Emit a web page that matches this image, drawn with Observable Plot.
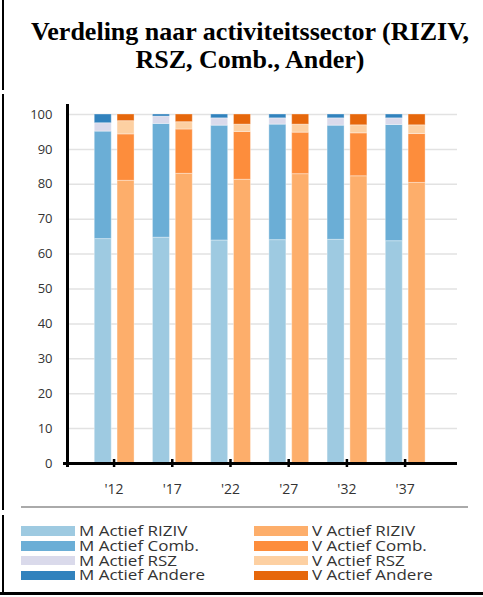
<!DOCTYPE html>
<html>
<head>
<meta charset="utf-8">
<script src="https://cdn.jsdelivr.net/npm/d3@7"></script>
<script src="https://cdn.jsdelivr.net/npm/@observablehq/plot@0.6"></script>
<style>
  html, body { margin: 0; padding: 0; background: #fff; width: 483px; height: 597px; overflow: hidden; }
  #page { position: relative; width: 483px; height: 597px; }
  .vline { position: absolute; left: 2px; width: 2px; background: #000; }
  #bottom { position: absolute; left: 0; top: 592px; width: 483px; height: 3px; background: #000; }
  #title { position: absolute; left: 0; top: 18px; width: 500px; text-align: center;
           font-family: "Liberation Serif", "Times New Roman", serif; font-weight: bold;
           font-size: 26px; line-height: 28px; color: #000; }
  #chart { position: absolute; left: 0; top: 95px; }
  #sep { position: absolute; left: 21px; top: 506px; width: 447px; height: 1.5px; background: #aaa; }
  .leg { position: absolute; font-family: "Open Sans", sans-serif; font-size: 14.5px; color: #333;
         line-height: 14.8px; white-space: nowrap; }
  .leg .row { height: 14.8px; }
  .leg .sw { display: inline-block; width: 54px; height: 9.5px; vertical-align: middle; margin-right: 4px; position: relative; top: -1px; }
  .leg .txt { display: inline-block; transform: scaleX(1.17); transform-origin: left center; }
</style>
</head>
<body>
<div id="page">
  <div class="vline" style="top:0;height:90px"></div>
  <div class="vline" style="top:94px;height:416px"></div>
  <div class="vline" style="top:515px;height:78px"></div>
  <div id="bottom"></div>
  <div id="title">Verdeling naar activiteitssector (RIZIV,<br>RSZ, Comb., Ander)</div>
  <div id="chart"></div>
  <div id="sep"></div>
  <div id="legendM" class="leg" style="left:21px;top:524px"></div>
  <div id="legendV" class="leg" style="left:254px;top:524px"></div>
</div>
<script>
// ---- data ----
const years = [2012, 2017, 2022, 2027, 2032, 2037];
const mKeys = ["M Actief RIZIV", "M Actief Comb.", "M Actief RSZ", "M Actief Andere"];
const vKeys = ["V Actief RIZIV", "V Actief Comb.", "V Actief RSZ", "V Actief Andere"];
const mColors = ["#9ecae1", "#6baed6", "#dadaeb", "#3182bd"];
const vColors = ["#fdae6b", "#fd8d3c", "#fdd0a2", "#e6670b"];
const mRiziv  = [64.3, 64.7, 63.9, 64.0, 64.1, 63.7];
const mComb   = [30.8, 32.6, 32.9, 33.1, 32.7, 33.3];
const mRsz    = [2.4, 2.1, 2.1, 1.8, 2.1, 1.9];
const mAndere = [2.5, 0.6, 1.1, 1.1, 1.1, 1.1];
const vRiziv  = [81.0, 83.0, 81.3, 82.9, 82.3, 80.4];
const vComb   = [13.3, 12.7, 13.7, 11.9, 12.3, 14.0];
const vRsz    = [3.8, 2.1, 2.1, 2.3, 2.3, 2.5];
const vAndere = [1.9, 2.2, 2.9, 2.9, 3.1, 3.1];
const yTicks = d3.range(0, 101, 10);
const xDomain = [2008, 2041.5];

// ---- build stacked rows ----
const groups = [
  {keys: mKeys, series: [mRiziv, mComb, mRsz, mAndere], off: [-1.66, -0.2]},
  {keys: vKeys, series: [vRiziv, vComb, vRsz, vAndere], off: [0.3, 1.76]}
];
const rows = [];
years.forEach((yr, i) => {
  groups.forEach(g => {
    let acc = 0;
    g.series.forEach((s, k) => {
      rows.push({year: yr, key: g.keys[k], x1: yr + g.off[0], x2: yr + g.off[1], y1: acc, y2: acc + s[i]});
      acc += s[i];
    });
  });
});

const allKeys = [...mKeys, ...vKeys];
const allColors = [...mColors, ...vColors];

const plot = Plot.plot({
  width: 483,
  height: 410,
  marginTop: 19,
  marginBottom: 42,
  marginLeft: 67,
  marginRight: 26,
  style: {fontFamily: "Open Sans, sans-serif", fontSize: "13px", overflow: "visible", background: "transparent"},
  x: {domain: xDomain, axis: null},
  y: {domain: [0, 100], axis: null},
  color: {domain: allKeys, range: allColors},
  marks: [
    Plot.gridY(yTicks.filter(d => d > 0), {stroke: "#e2e2e2", strokeOpacity: 1, strokeWidth: 1.5}),
    Plot.rectY(rows, {x1: "x1", x2: "x2", y1: "y1", y2: "y2", fill: "key", stroke: "white", strokeOpacity: 0.35, strokeWidth: 1}),
    Plot.axisY(yTicks, {tickSize: 0, tickPadding: 15, fontSize: 13, fill: "#333", label: null}),
    Plot.axisX(years, {tickSize: 8, insetBottom: 4, tickFormat: () => "", stroke: "#000", strokeWidth: 2.5, label: null}),
    Plot.axisX(years, {tickSize: 0, tickPadding: 21, tickFormat: d => "'" + String(d).slice(2), fontSize: 14, fill: "#333", label: null}),
    Plot.ruleX([xDomain[0]], {stroke: "#000", strokeWidth: 3, insetTop: -10, insetBottom: -4}),
    Plot.ruleY([0], {stroke: "#000", strokeWidth: 3, insetLeft: -4})
  ]
});
document.getElementById("chart").appendChild(plot);

// ---- legend ----
function fillLegend(id, keys, colors) {
  const el = document.getElementById(id);
  el.innerHTML = keys.map((k, i) =>
    `<div class="row"><span class="sw" style="background:${colors[i]}"></span><span class="txt">${k}</span></div>`).join("");
}
fillLegend("legendM", mKeys, mColors);
fillLegend("legendV", vKeys, vColors);
</script>
</body>
</html>
